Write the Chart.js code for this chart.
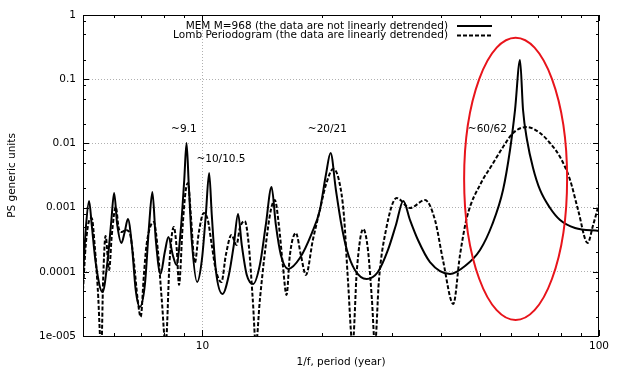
<!DOCTYPE html>
<html>
<head>
<meta charset="utf-8">
<script src="https://cdn.jsdelivr.net/npm/chart.js@4.4.1/dist/chart.umd.min.js"></script>
<style>
  html, body { margin: 0; padding: 0; background: #fff; }
  #wrap { width: 617px; height: 373px; }
</style>
</head>
<body>
<div id="wrap"><canvas id="ps-chart" width="617" height="373"></canvas></div>
<script>
// MEM spectrum (solid), period in years vs power
const memPeriod = [5.00, 5.09, 5.18, 5.26, 5.38, 5.60, 5.77, 5.89, 5.99, 6.10, 6.25, 6.37, 6.49, 6.64, 6.79, 6.95,
  7.16, 7.34, 7.48, 7.63, 7.84, 8.04, 8.21, 8.42, 8.60, 8.82, 9.00, 9.12, 9.24, 9.40, 9.70, 9.97, 10.20, 10.40,
  10.56, 10.81, 11.24, 11.66, 12.00, 12.30, 12.57, 12.94, 13.43, 13.96, 14.45, 14.94, 15.32, 15.77, 16.46, 17.61,
  18.88, 19.78, 20.48, 21.05, 21.71, 22.35, 23.14, 24.24, 25.95, 27.70, 29.37, 30.76, 32.10, 33.38, 34.96, 37.48,
  42.11, 45.94, 50.12, 53.74, 57.28, 59.65, 61.41, 63.22, 64.34, 65.85, 68.19, 71.02, 75.26, 79.77, 87.03, 100];
const memPower = [8.9e-5, 5.36e-4, 1.27e-3, 5.36e-4, 1.42e-4, 4.84e-5, 1.53e-4, 5.97e-4, 1.69e-3, 5.36e-4, 2.81e-4,
  4.17e-4, 6.64e-4, 2.61e-4, 5.21e-5, 2.83e-5, 6.23e-5, 5.36e-4, 1.75e-3, 3.13e-4, 9.24e-5, 2.03e-4, 3.48e-4,
  1.83e-4, 1.28e-4, 4.48e-4, 2.69e-3, 1.01e-2, 2.25e-3, 3.13e-4, 6.93e-5, 1.53e-4, 7.67e-4, 3.46e-3, 7.67e-4,
  1.07e-4, 4.51e-5, 8.91e-5, 2.61e-4, 7.95e-4, 2.61e-4, 8.91e-5, 6.46e-5, 1.28e-4, 5.36e-4, 2.09e-3, 5.36e-4,
  1.83e-4, 1.11e-4, 1.64e-4, 4.02e-4, 9.18e-4, 3.22e-3, 7.09e-3, 1.88e-3, 5.97e-4, 2.19e-4, 1.07e-4, 7.73e-5,
  9.93e-5, 2.19e-4, 5.36e-4, 1.27e-3, 6.41e-4, 3.13e-4, 1.42e-4, 9.24e-5, 1.23e-4, 2.19e-4, 5.36e-4, 1.88e-3,
  7.89e-3, 3.31e-2, 0.199, 3.31e-2, 1.13e-2, 4.14e-3, 1.88e-3, 9.86e-4, 6.41e-4, 4.81e-4, 4.32e-4];

// Lomb periodogram (dashed)
const lombPeriod = [5.00, 5.08, 5.17, 5.26, 5.35, 5.45, 5.56, 5.62, 5.70, 5.82, 5.91, 6.05, 6.15, 6.26, 6.41, 6.56,
  6.71, 6.87, 6.99, 7.12, 7.23, 7.54, 7.72, 7.90, 8.08, 8.27, 8.47, 8.62, 8.73, 8.92, 9.08, 9.20, 9.35, 9.57, 9.79,
  10.08, 10.32, 10.56, 10.81, 11.17, 11.46, 11.84, 12.19, 12.43, 12.79, 13.09, 13.40, 13.64, 13.96, 14.45, 14.88,
  15.23, 15.59, 15.95, 16.30, 16.62, 17.21, 17.71, 18.24, 18.99, 19.78, 20.48, 21.37, 22.09, 22.74, 23.28, 23.92,
  24.52, 25.44, 26.15, 26.76, 27.23, 27.87, 29.03, 30.89, 33.38, 36.41, 38.59, 40.41, 42.92, 44.62, 46.47, 50.41,
  53.74, 57.28, 60.70, 65.74, 71.02, 75.26, 79.77, 84.55, 88.57, 93.61, 96.64, 100];
const lombPower = [5.21e-5, 2.61e-4, 5.97e-4, 6.89e-4, 2.61e-4, 5.21e-5, 6.0e-6, 7.45e-5, 3.61e-4, 1.07e-4,
  3.74e-4, 1.02e-3, 4.81e-4, 4.17e-4, 4.48e-4, 4.02e-4, 1.53e-4, 3.64e-5, 1.98e-5, 8.91e-5,
  2.61e-4, 5.97e-4, 2.19e-4, 3.64e-5, 7.2e-6, 1.53e-4, 4.99e-4, 2.19e-4, 6.23e-5, 5.36e-4,
  1.88e-3, 2.42e-3, 7.67e-4, 1.37e-4, 4.02e-4, 8.24e-4, 6.41e-4, 2.61e-4, 1.07e-4, 6.93e-5,
  1.83e-4, 3.74e-4, 2.61e-4, 4.81e-4, 6.18e-4, 2.61e-4, 3.64e-5, 7.2e-6, 3.64e-5, 2.61e-4,
  9.18e-4, 1.31e-3, 5.36e-4, 1.28e-4, 4.35e-5, 1.83e-4, 4.02e-4, 1.83e-4, 8.91e-5, 3.13e-4,
  9.18e-4, 2.25e-3, 3.99e-3, 2.69e-3, 7.67e-4, 7.45e-5, 7.2e-6, 1.07e-4, 4.64e-4, 2.19e-4,
  3.64e-5, 7.2e-6, 7.45e-5, 4.48e-4, 1.41e-3, 9.86e-4, 1.31e-3, 6.41e-4, 1.53e-4, 3.15e-5,
  1.83e-4, 7.14e-4, 2.42e-3, 4.61e-3, 8.79e-3, 1.45e-2, 1.80e-2, 1.45e-2, 1.01e-2, 6.14e-3,
  2.69e-3, 9.18e-4, 2.81e-4, 5.36e-4, 1.14e-3];

// Axis ticks
const xTickValues = [10, 100];
const xTickLabels = ['10', '100'];
const xMinorTicks = [6, 7, 8, 9, 20, 30, 40, 50, 60, 70, 80, 90];
const yTickValues = [1e-5, 1e-4, 1e-3, 1e-2, 1e-1, 1];
const yTickLabels = ['1e-005', '0.0001', '0.001', '0.01', '0.1', '1'];
const yMinorSteps = [2, 5, 8];

// Peak notes (anchored in data space) and the highlighted region
const peakNotes = [
  { text: '~9.1', period: 8.98, power: 0.0168, align: 'center' },
  { text: '~10/10.5', period: 9.66, power: 0.0057, align: 'left' },
  { text: '~20/21', period: 20.66, power: 0.0168, align: 'center' },
  { text: '~60/62', period: 46.7, power: 0.0168, align: 'left' }
];
const highlight = { periodFrom: 45.7, periodTo: 83.1, powerTop: 0.443, powerBottom: 1.77e-5 };

const FONT = '10.5px "DejaVu Sans", sans-serif';
Chart.defaults.font.family = '"DejaVu Sans", sans-serif';
Chart.defaults.font.size = 10.5;
Chart.defaults.color = '#000';

function toPoints(xs, ys) {
  return xs.map((x, i) => ({ x: x, y: ys[i] }));
}

function tickLabel(values, labels, value) {
  const i = values.findIndex(v => Math.abs(Math.log10(v) - Math.log10(value)) < 1e-6);
  return i >= 0 ? labels[i] : '';
}

// gnuplot-like frame: box, inward ticks on all sides, legend, notes, ellipse
const gnuplotFrame = {
  id: 'gnuplotFrame',
  afterDraw(chart) {
    const { ctx, chartArea: a, scales: { x, y } } = chart;
    ctx.save();

    ctx.strokeStyle = '#000';
    ctx.lineWidth = 1;
    ctx.beginPath();
    const xTick = (v, len) => {
      const px = Math.round(x.getPixelForValue(v)) + 0.5;
      ctx.moveTo(px, a.bottom); ctx.lineTo(px, a.bottom - len);
      ctx.moveTo(px, a.top); ctx.lineTo(px, a.top + len);
    };
    const yTick = (v, len) => {
      const py = Math.round(y.getPixelForValue(v)) + 0.5;
      ctx.moveTo(a.left, py); ctx.lineTo(a.left + len, py);
      ctx.moveTo(a.right, py); ctx.lineTo(a.right - len, py);
    };
    xTickValues.forEach(v => xTick(v, 6));
    xMinorTicks.forEach(v => xTick(v, 3));
    yTickValues.forEach(v => yTick(v, 6));
    yTickValues.slice(0, -1).forEach(d => yMinorSteps.forEach(m => yTick(d * m, 3)));
    ctx.stroke();

    ctx.strokeRect(a.left + 0.5, a.top + 0.5, a.right - a.left - 1, a.bottom - a.top);

    // legend, right aligned text with line sample
    ctx.font = FONT;
    ctx.fillStyle = '#000';
    ctx.textAlign = 'right';
    ctx.textBaseline = 'alphabetic';
    chart.data.datasets.forEach((ds, i) => {
      const base = a.top + 13.5 + i * 9.5;
      ctx.fillText(ds.label, 448, base);
      ctx.save();
      ctx.lineWidth = 2;
      ctx.setLineDash(ds.borderDash || []);
      ctx.beginPath();
      ctx.moveTo(457, base - 2.5);
      ctx.lineTo(492, base - 2.5);
      ctx.stroke();
      ctx.restore();
    });

    // peak notes
    ctx.textBaseline = 'middle';
    peakNotes.forEach(n => {
      ctx.textAlign = n.align;
      ctx.fillText(n.text, x.getPixelForValue(n.period), y.getPixelForValue(n.power));
    });

    // red ellipse around the ~60 year peak
    const x1 = x.getPixelForValue(highlight.periodFrom);
    const x2 = x.getPixelForValue(highlight.periodTo);
    const y1 = y.getPixelForValue(highlight.powerTop);
    const y2 = y.getPixelForValue(highlight.powerBottom);
    ctx.strokeStyle = '#e8141b';
    ctx.lineWidth = 2;
    ctx.beginPath();
    ctx.ellipse((x1 + x2) / 2, (y1 + y2) / 2, (x2 - x1) / 2, (y2 - y1) / 2, 0, 0, Math.PI * 2);
    ctx.stroke();

    ctx.restore();
  }
};

const gridColor = (values) => (c) => {
  const v = c.tick && c.tick.value;
  return (v && v !== values[0] && v !== values[values.length - 1]) ? '#b0b0b0' : 'rgba(0,0,0,0)';
};

new Chart(document.getElementById('ps-chart'), {
  type: 'line',
  data: {
    datasets: [
      {
        label: 'MEM M=968 (the data are not linearly detrended)',
        data: toPoints(memPeriod, memPower),
        borderColor: '#000',
        borderWidth: 2,
        pointRadius: 0,
        cubicInterpolationMode: 'monotone'
      },
      {
        label: 'Lomb Periodogram (the data are linearly detrended)',
        data: toPoints(lombPeriod, lombPower),
        borderColor: '#000',
        borderWidth: 2,
        borderDash: [4, 2],
        pointRadius: 0,
        cubicInterpolationMode: 'monotone'
      }
    ]
  },
  options: {
    responsive: false,
    devicePixelRatio: 1,
    animation: false,
    events: [],
    layout: { padding: { top: 15, right: 18, bottom: 0, left: 0 } },
    plugins: { legend: { display: false }, tooltip: { enabled: false } },
    scales: {
      x: {
        type: 'logarithmic',
        min: 5,
        max: 100,
        afterBuildTicks: s => { s.ticks = xTickValues.map(v => ({ value: v })); },
        afterFit: s => { s.height = 37; },
        ticks: {
          autoSkip: false,
          maxRotation: 0,
          padding: 4,
          callback: v => tickLabel(xTickValues, xTickLabels, v)
        },
        grid: { drawTicks: false, color: c => (c.tick && c.tick.value === 10 ? '#b0b0b0' : 'rgba(0,0,0,0)'), lineWidth: 1 },
        border: { display: false, dash: [1, 2] },
        title: { display: true, text: '1/f, period (year)', padding: { top: 0, bottom: 4 } }
      },
      y: {
        type: 'logarithmic',
        min: 1e-5,
        max: 1,
        afterBuildTicks: s => { s.ticks = yTickValues.map(v => ({ value: v })); },
        afterFit: s => { s.width = 83; },
        ticks: {
          autoSkip: false,
          padding: 7,
          callback: v => tickLabel(yTickValues, yTickLabels, v)
        },
        grid: { drawTicks: false, color: gridColor(yTickValues), lineWidth: 1 },
        border: { display: false, dash: [1, 2] },
        title: { display: true, text: 'PS generic units', padding: { top: 6, bottom: 0 } }
      }
    }
  },
  plugins: [gnuplotFrame]
});
</script>
</body>
</html>
